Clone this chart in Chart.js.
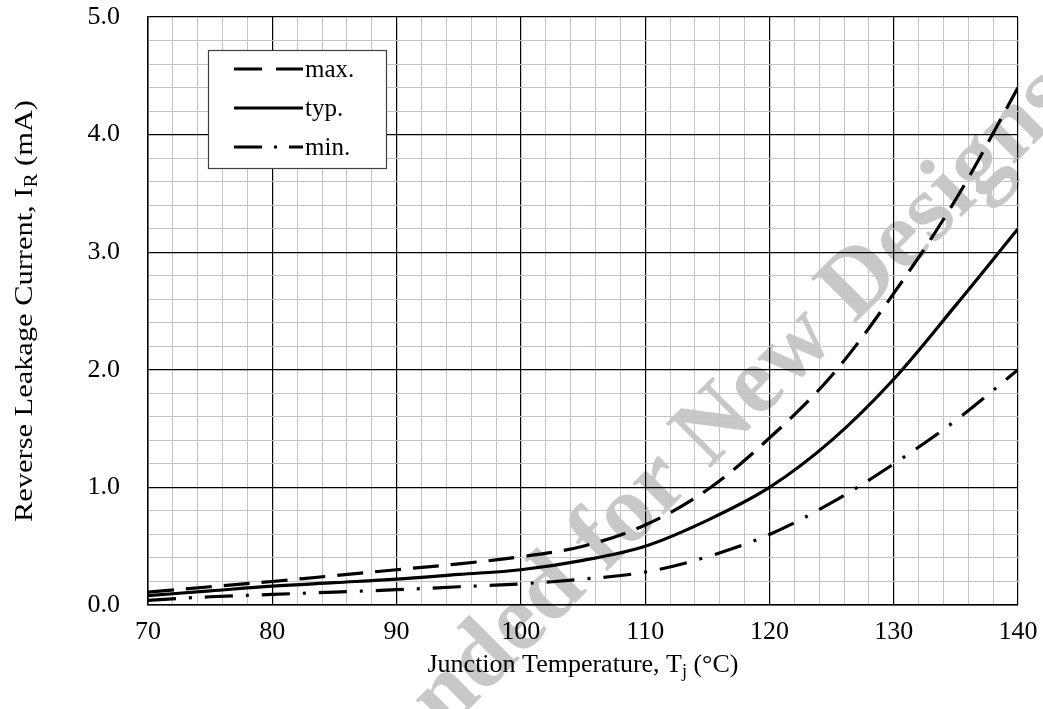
<!DOCTYPE html>
<html>
<head>
<meta charset="utf-8">
<script src="https://cdn.jsdelivr.net/npm/chart.js@4/dist/chart.umd.min.js"></script>
<style>
  html, body { margin: 0; padding: 0; background: #fff; }
  #wrap { width: 1043px; height: 709px; position: relative; }
</style>
</head>
<body>
<div id="wrap"><canvas id="leakChart"></canvas></div>
<script>
// Junction temperature (°C)
const temps = [70, 75, 80, 85, 90, 95, 100, 105, 110, 115, 120, 125, 130, 135, 140]
// reverse leakage current (mA)
const maxVals = [0.11, 0.155, 0.2, 0.25, 0.3, 0.35, 0.41, 0.5, 0.68, 0.98, 1.42, 1.95, 2.65, 3.45, 4.4]
const typVals = [0.08, 0.12, 0.16, 0.19, 0.22, 0.26, 0.3, 0.38, 0.5, 0.72, 1.0, 1.4, 1.92, 2.55, 3.2]
const minVals = [0.04, 0.07, 0.09, 0.11, 0.13, 0.155, 0.18, 0.22, 0.28, 0.41, 0.6, 0.87, 1.2, 1.57, 2.0]
const seriesNames = ['max.', 'typ.', 'min.']

const serif = '"Liberation Serif", "Times New Roman", serif'
const minorGrid = '#c4c4c4'

function pts(vals) {
  return temps.map((t, i) => ({ x: t, y: vals[i] }))
}
function isWhole(v, step) {
  return Math.abs(v / step - Math.round(v / step)) < 1e-6
}

// text with a subscript part: [main, sub, rest], centred on x
function subText(ctx, parts, x, y, size) {
  const big = size + 'px ' + serif
  const small = Math.round(size * 0.68) + 'px ' + serif
  ctx.font = big
  const w0 = ctx.measureText(parts[0]).width
  const w2 = ctx.measureText(parts[2]).width
  ctx.font = small
  const w1 = ctx.measureText(parts[1]).width
  let sx = x - (w0 + w1 + w2) / 2
  ctx.textAlign = 'left'
  ctx.font = big
  ctx.fillText(parts[0], sx, y)
  ctx.fillText(parts[2], sx + w0 + w1, y)
  ctx.font = small
  ctx.fillText(parts[1], sx + w0, y + size * 0.27)
}

const extras = {
  id: 'extras',
  beforeDraw(chart) {
    // watermark under everything, the "D" of Designs sits near (856, 277)
    const ctx = chart.ctx
    const txt = 'Not Recommended for New Designs'
    ctx.save()
    ctx.font = 'bold 96px ' + serif
    const pre = ctx.measureText('Not Recommended for New ').width
    const dW = ctx.measureText('D').width
    ctx.translate(856, 277)
    ctx.rotate(-45 * Math.PI / 180)
    ctx.fillStyle = '#c8c8c8'
    ctx.textAlign = 'left'
    ctx.textBaseline = 'alphabetic'
    ctx.fillText(txt, -(pre + dW / 2), 32)
    ctx.restore()
  },
  afterDraw(chart) {
    const ctx = chart.ctx
    const a = chart.chartArea
    ctx.save()
    ctx.fillStyle = '#000'
    ctx.textBaseline = 'middle'
    // axis titles
    subText(ctx, ['Junction Temperature, T', 'j', ' (\u00B0C)'], (a.left + a.right) / 2, 665, 26)
    ctx.save()
    ctx.translate(25, (a.top + a.bottom) / 2)
    ctx.rotate(-Math.PI / 2)
    ctx.scale(1.17, 1)
    subText(ctx, ['Reverse Leakage Current, I', 'R', ' (mA)'], 0, 0, 26)
    ctx.restore()

    // legend box
    const bx = 208, by = 50, bw = 178, bh = 118
    ctx.fillStyle = '#fff'
    ctx.fillRect(bx, by, bw, bh)
    ctx.strokeStyle = '#404040'
    ctx.lineWidth = 1.2
    ctx.strokeRect(bx + 0.5, by + 0.5, bw, bh)
    const legendDash = [[28, 14], [], [28, 12, 3, 12]]
    chart.data.datasets.forEach((ds, i) => {
      const y = 69 + i * 39
      ctx.beginPath()
      ctx.setLineDash(legendDash[i])
      ctx.lineWidth = ds.borderWidth
      ctx.strokeStyle = ds.borderColor
      ctx.moveTo(234, y)
      ctx.lineTo(303, y)
      ctx.stroke()
      ctx.setLineDash([])
      ctx.fillStyle = '#000'
      ctx.font = '25px ' + serif
      ctx.textAlign = 'left'
      ctx.fillText(ds.label, 305, y + 1)
    })
    ctx.restore()
  }
}

new Chart(document.getElementById('leakChart'), {
  type: 'line',
  data: {
    datasets: [
      {
        label: seriesNames[0],
        data: pts(maxVals),
        borderColor: '#000',
        borderWidth: 3.2,
        borderDash: [26, 12],
        pointRadius: 0,
        tension: 0.35,
        fill: false
      },
      {
        label: seriesNames[1],
        data: pts(typVals),
        borderColor: '#000',
        borderWidth: 3.2,
        pointRadius: 0,
        tension: 0.35,
        fill: false
      },
      {
        label: seriesNames[2],
        data: pts(minVals),
        borderColor: '#000',
        borderWidth: 3.2,
        borderDash: [28, 13, 3, 13],
        pointRadius: 0,
        tension: 0.35,
        fill: false
      }
    ]
  },
  options: {
    responsive: true,
    maintainAspectRatio: false,
    animation: false,
    layout: { padding: { left: 0, top: 17, right: 25, bottom: 0 } },
    plugins: {
      legend: { display: false },
      tooltip: { enabled: false }
    },
    scales: {
      x: {
        type: 'linear',
        min: 70,
        max: 140,
        afterFit(scale) {
          scale.height = 104
          scale.paddingLeft = 0
          scale.paddingRight = 0
        },
        ticks: {
          stepSize: 2,
          autoSkip: false,
          maxRotation: 0,
          padding: 12,
          color: '#000',
          font: { family: serif, size: 26 },
          callback: v => isWhole(v, 10) ? String(v) : ''
        },
        grid: {
          drawTicks: false,
          color: c => isWhole(c.tick.value, 10) ? '#000' : minorGrid,
          lineWidth: c => isWhole(c.tick.value, 10) ? 1.2 : 1
        },
        border: { color: '#000', width: 1.5 }
      },
      y: {
        min: 0,
        max: 5,
        afterFit(scale) {
          scale.width = 148
          scale.paddingTop = 0
          scale.paddingBottom = 0
        },
        ticks: {
          stepSize: 0.2,
          autoSkip: false,
          padding: 28,
          color: '#000',
          font: { family: serif, size: 26 },
          callback: v => isWhole(v, 1) ? Number(v).toFixed(1) : ''
        },
        grid: {
          drawTicks: false,
          color: c => isWhole(c.tick.value, 1) ? '#000' : minorGrid,
          lineWidth: c => isWhole(c.tick.value, 1) ? 1.2 : 1
        },
        border: { color: '#000', width: 1.5 }
      }
    }
  },
  plugins: [extras]
})
</script>
</body>
</html>
